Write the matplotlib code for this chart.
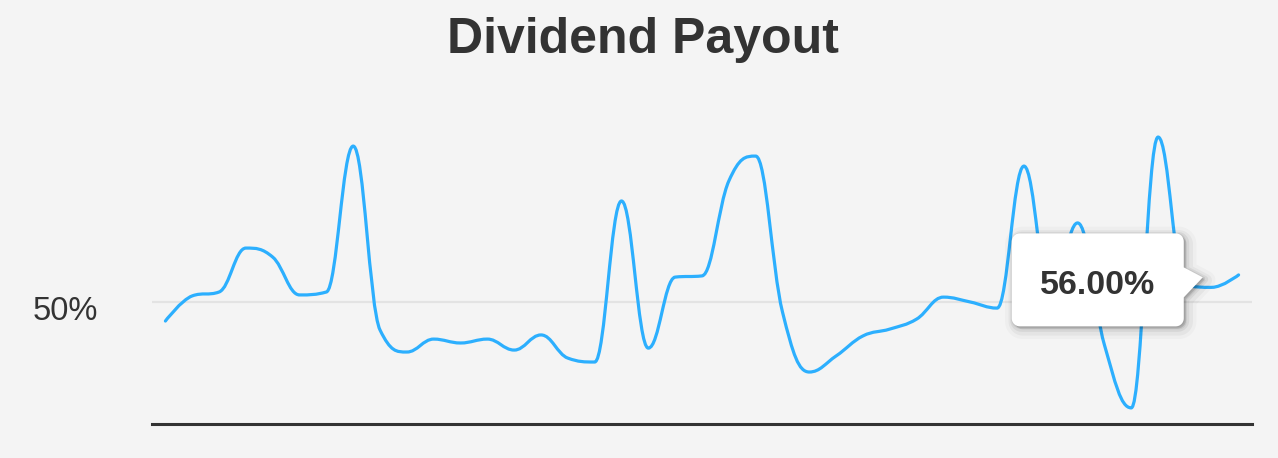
import numpy as np
import matplotlib
matplotlib.use('Agg')
import matplotlib.pyplot as plt
from matplotlib.path import Path
from matplotlib.patches import PathPatch
from matplotlib.transforms import IdentityTransform

# ---------------- data ----------------
title = "Dividend Payout"
periods = list(range(41))
payout = [42.2, 52.5, 54.1, 72.1, 68.4, 52.9, 54.1, 113.9, 38.5, 29.5,
          34.8, 33.2, 34.8, 30.3, 36.5, 27.0, 25.4, 91.4, 31.1, 60.2,
          60.7, 99.6, 109.8, 45.9, 21.3, 27.9, 36.1, 38.9, 43.0, 52.0,
          50.0, 47.5, 105.7, 51.6, 82.4, 32.4, 6.6, 117.6, 57.0, 56.0, 61.1]
ytick_vals = [50]
ytick_labels = ["50%"]
tooltip_index = 39
tooltip_label = "56.00%"

# ---------------- style ----------------
BG = '#f4f4f4'
LINE = '#2caffe'
TXT = '#333333'
FONT = 'Liberation Sans'
W, H = 1278, 458


def hc_spline(xs, ys, smoothing=1.5):
    """Spline path built like Highcharts' 'spline' series."""
    n = len(xs)
    denom = smoothing + 1
    left = [None] * n
    right = [None] * n
    for i in range(1, n - 1):
        px, py = xs[i], ys[i]
        lx, ly = xs[i - 1], ys[i - 1]
        nx, ny = xs[i + 1], ys[i + 1]
        lcx = (smoothing * px + lx) / denom
        lcy = (smoothing * py + ly) / denom
        rcx = (smoothing * px + nx) / denom
        rcy = (smoothing * py + ny) / denom
        corr = 0.0
        if rcx != lcx:
            corr = (rcy - lcy) * (rcx - px) / (rcx - lcx) + py - rcy
        lcy += corr
        rcy += corr
        if lcy > ly and lcy > py:
            lcy = max(ly, py); rcy = 2 * py - lcy
        elif lcy < ly and lcy < py:
            lcy = min(ly, py); rcy = 2 * py - lcy
        if rcy > ny and rcy > py:
            rcy = max(ny, py); lcy = 2 * py - rcy
        elif rcy < ny and rcy < py:
            rcy = min(ny, py); lcy = 2 * py - rcy
        left[i] = (lcx, lcy)
        right[i] = (rcx, rcy)
    verts = [(xs[0], ys[0])]
    codes = [Path.MOVETO]
    for i in range(1, n):
        c1 = right[i - 1] if right[i - 1] is not None else (xs[i - 1], ys[i - 1])
        c2 = left[i] if left[i] is not None else (xs[i], ys[i])
        verts += [c1, c2, (xs[i], ys[i])]
        codes += [Path.CURVE4] * 3
    return Path(verts, codes)


def callout(l, b, r, t, rad, tipx, tipy, a_top, a_bot, n=10):
    def arc(cx, cy, a0, a1):
        return [(cx + rad * np.cos(a), cy + rad * np.sin(a))
                for a in np.linspace(a0, a1, n)]
    pts = []
    pts += arc(l + rad, t - rad, np.pi, np.pi / 2)
    pts += arc(r - rad, t - rad, np.pi / 2, 0)
    pts += [(r, a_top), (tipx, tipy), (r, a_bot)]
    pts += arc(r - rad, b + rad, 0, -np.pi / 2)
    pts += arc(l + rad, b + rad, -np.pi / 2, -np.pi)
    pts.append(pts[0])
    return Path(pts, closed=True)


fig = plt.figure(figsize=(W / 100, H / 100), dpi=100, facecolor=BG)
ax = fig.add_axes([152 / W, (H - 424) / H, 1100 / W, (424 - 110) / H])
ax.set_facecolor(BG)
ax.set_xlim(-0.5, len(periods) - 0.5)
ax.set_ylim(0, 314 / 2.44)

for s in ['top', 'right', 'left']:
    ax.spines[s].set_visible(False)
ax.spines['bottom'].set_color(TXT)
ax.spines['bottom'].set_linewidth(2.2)
ax.set_xticks([])
ax.set_yticks([])

for v, lab in zip(ytick_vals, ytick_labels):
    ax.axhline(v, color='#e3e3e3', lw=1.6, zorder=1)
    ax.annotate(lab, xy=(0, v), xycoords=('axes fraction', 'data'),
                xytext=(-54, -18), textcoords='offset pixels',
                ha='right', va='baseline', fontsize=23.6, color=TXT,
                family=FONT, annotation_clip=False)

path = hc_spline([float(p) for p in periods], payout)
ax.add_patch(PathPatch(path, facecolor='none', edgecolor=LINE, lw=2.3,
                       zorder=3, capstyle='round', joinstyle='round'))

# title
fig.text(643 / W, (H - 53) / H, title, ha='center', va='baseline',
         fontsize=36, fontweight='bold', color=TXT, family=FONT)

# tooltip (anchored to data point)
px, py = ax.transData.transform((periods[tooltip_index], payout[tooltip_index]))
tipx, tipy = px - 9, py + 10
r = tipx - 19
l = r - 172
t = tipy + 44
b = tipy - 49
tp = callout(l, b, r, t, 8, tipx, tipy, tipy + 10, tipy - 20)
# soft shadow: stroked copies, offset down-right
for k, lw, a in [(3, 14, 0.025), (3, 9, 0.04), (2, 5, 0.06), (1, 2, 0.08)]:
    sp = Path(tp.vertices + np.array([k, -k]), tp.codes)
    fig.add_artist(PathPatch(sp, facecolor='black', edgecolor='black', lw=lw,
                             alpha=a, joinstyle='round',
                             transform=IdentityTransform(), zorder=4))
fig.add_artist(PathPatch(tp, facecolor='white', edgecolor='none',
                         transform=IdentityTransform(), zorder=5))
fig.text((l + r) / 2, t - 61, tooltip_label, ha='center', va='baseline',
         fontsize=24.5, fontweight='bold', color=TXT, family=FONT,
         transform=IdentityTransform(), zorder=6)

fig.savefig('out.png', dpi=100, facecolor=BG)
